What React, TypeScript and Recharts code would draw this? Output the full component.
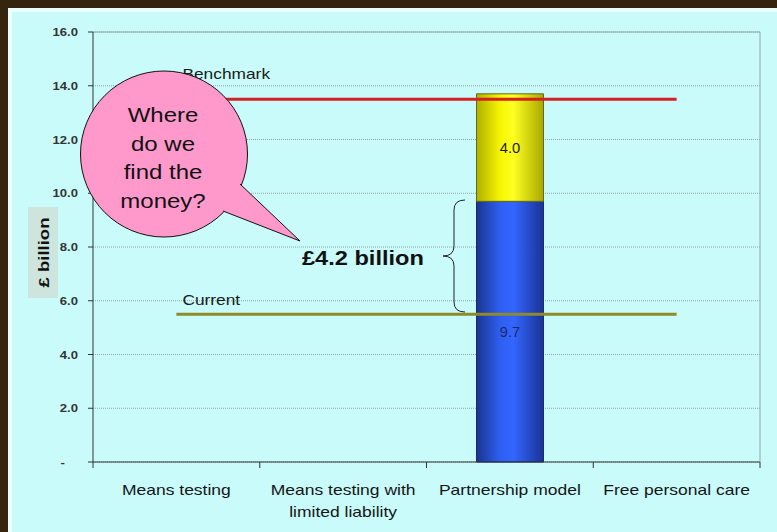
import React from "react";
import { ComposedChart, Bar, Line, XAxis, YAxis, CartesianGrid, ReferenceLine, LabelList } from "recharts";

const categories = ["Means testing", "Means testing with limited liability", "Partnership model", "Free personal care"];
const baseCost = [null, null, 9.7, null];
const extraCost = [null, null, 4.0, null];
const benchmark = [13.5, 13.5, 13.5, 13.5];
const current = [5.5, 5.5, 5.5, 5.5];
const yTicks = [0, 2, 4, 6, 8, 10, 12, 14, 16];
const bubbleLines = ["Where", "do we", "find the", "money?"];
const gapLabel = "£4.2 billion";
const yAxisLabel = "£ billion";
const benchmarkLabel = "Benchmark";
const currentLabel = "Current";

const data = categories.map((c, i) => ({
  category: c,
  base: baseCost[i],
  extra: extraCost[i],
  benchmark: benchmark[i],
  current: current[i],
}));

const FONT = "'Liberation Sans', Arial, sans-serif";
const W = 777;
const H = 532;
const M = { top: 32, right: 0, bottom: 0, left: 0 };
const LEFT_W = 93;
const RIGHT_W = 17;
const X_H = 70;
const BAND = (W - LEFT_W - RIGHT_W) / categories.length;

function WText(props: any) {
  const { x, y, children, anchor = "start", size = 14, weight = "normal", fill = "#1a1a1a", sx = 1.25 } = props;
  return (
    <text
      transform={`translate(${x},${y}) scale(${sx},1)`}
      textAnchor={anchor}
      fontSize={size}
      fontWeight={weight}
      fill={fill}
      fontFamily={FONT}
    >
      {children}
    </text>
  );
}

function wrap(s: string, max: number) {
  const words = s.split(" ");
  const lines: string[] = [];
  let cur = "";
  for (const w of words) {
    const t = cur ? cur + " " + w : w;
    if (t.length > max && cur) {
      lines.push(cur);
      cur = w;
    } else cur = t;
  }
  if (cur) lines.push(cur);
  return lines;
}

const CatTick = (props: any) => {
  const { x, y, payload, index } = props;
  const lines = wrap(String(payload.value), 19);
  const half = BAND / 2;
  return (
    <g>
      <line x1={x - half} x2={x - half} y1={y} y2={y + 6} stroke="#333" />
      {index === categories.length - 1 && <line x1={x + half} x2={x + half} y1={y} y2={y + 6} stroke="#333" />}
      {lines.map((l, i) => (
        <WText key={i} x={x} y={y + 33 + i * 22} anchor="middle" size={14} fill="#151515">
          {l}
        </WText>
      ))}
    </g>
  );
};

const YTick = (props: any) => {
  const { x, y, payload } = props;
  const v = Number(payload.value);
  if (v === 0) {
    return (
      <WText x={x - 13} y={y + 4} anchor="end" size={10.5} weight="bold" fill="#333" sx={1.25}>
        -
      </WText>
    );
  }
  return (
    <WText x={x} y={y + 4} anchor="end" size={10.5} weight="bold" fill="#333" sx={1.25}>
      {v.toFixed(1)}
    </WText>
  );
};

const barLabel = (color: string) => (p: any) => {
  const { x, y, width, height, value } = p;
  if (value == null || !height) return null;
  return (
    <WText x={x + width / 2} y={y + height / 2 + 5} anchor="middle" size={14} sx={1.05} fill={color}>
      {Number(value).toFixed(1)}
    </WText>
  );
};

const lineLabel = (text: string, dy: number) => (p: any) => {
  const { x, y, index } = p;
  if (index !== 0) return null;
  return (
    <WText x={x + 6} y={y + dy} size={14} fill="#1a1a1a" sx={1.24}>
      {text}
    </WText>
  );
};

export default function App() {
  return (
    <div style={{ position: "fixed", left: 0, top: 0, width: W, height: H, background: "#35250f", overflow: "hidden" }}>
      <div
        style={{
          position: "absolute",
          left: 8,
          top: 8,
          right: 0,
          bottom: 0,
          background: "#c9fbfb",
          borderLeft: "4px solid #eafefe",
          borderTop: "4px solid #eafefe",
        }}
      />
      <svg width={0} height={0} style={{ position: "absolute" }}>
        <defs>
          <linearGradient id="gBlue" x1="0" y1="0" x2="1" y2="0">
            <stop offset="0%" stopColor="#1a3590" />
            <stop offset="35%" stopColor="#2f5ef0" />
            <stop offset="55%" stopColor="#3366ff" />
            <stop offset="100%" stopColor="#1a3395" />
          </linearGradient>
          <linearGradient id="gYellow" x1="0" y1="0" x2="1" y2="0">
            <stop offset="0%" stopColor="#b0b000" />
            <stop offset="35%" stopColor="#f5f500" />
            <stop offset="55%" stopColor="#ffff22" />
            <stop offset="100%" stopColor="#a8a800" />
          </linearGradient>
        </defs>
      </svg>
      <div style={{ position: "absolute", left: 0, top: 0 }}>
        <ComposedChart width={W} height={H} data={data} margin={M} barCategoryGap={0}>
          <CartesianGrid vertical={false} stroke="#9aa4a4" strokeDasharray="1 1" />
          <XAxis
            dataKey="category"
            height={X_H}
            axisLine={{ stroke: "#333" }}
            tickLine={false}
            tickSize={0}
            tickMargin={0}
            tick={<CatTick />}
            interval={0}
          />
          <YAxis
            domain={[0, 16]}
            ticks={yTicks}
            width={LEFT_W}
            axisLine={{ stroke: "#333" }}
            tickLine={{ stroke: "#333" }}
            tickSize={5}
            tickMargin={10}
            tick={<YTick />}
            interval={0}
          />
          <YAxis
            yAxisId="right"
            orientation="right"
            domain={[0, 16]}
            width={RIGHT_W}
            tick={false}
            tickLine={false}
            axisLine={{ stroke: "#8fa8a8" }}
          />
          <ReferenceLine y={16} stroke="#8fa8a8" />
          <Bar dataKey="base" stackId="a" fill="url(#gBlue)" stroke="#1b2c6a" strokeWidth={1} barSize={67} isAnimationActive={false}>
            <LabelList dataKey="base" content={barLabel("#1a2a6a")} />
          </Bar>
          <Bar dataKey="extra" stackId="a" fill="url(#gYellow)" stroke="#666622" strokeWidth={1} barSize={67} isAnimationActive={false}>
            <LabelList dataKey="extra" content={barLabel("#1a1a1a")} />
          </Bar>
          <Line dataKey="current" stroke="#8f8a2a" strokeWidth={3} dot={false} activeDot={false} isAnimationActive={false}>
            <LabelList dataKey="current" content={lineLabel(currentLabel, -9)} />
          </Line>
          <Line dataKey="benchmark" stroke="#d42222" strokeWidth={3} dot={false} activeDot={false} isAnimationActive={false}>
            <LabelList dataKey="benchmark" content={lineLabel(benchmarkLabel, -20)} />
          </Line>
        </ComposedChart>
      </div>
      <svg width={W} height={H} style={{ position: "absolute", left: 0, top: 0, pointerEvents: "none" }}>
        <rect x={28} y={207} width={30} height={91} fill="#cde5dc" />
        <g transform="translate(49,252.5) rotate(-90)">
          <text textAnchor="middle" fontSize={15.5} fontWeight="bold" fill="#111" fontFamily={FONT} textLength={70} lengthAdjust="spacingAndGlyphs">
            {yAxisLabel}
          </text>
        </g>
        <ellipse cx={164} cy={154} rx={83.5} ry={83} fill="#ff99cc" stroke="#111" strokeWidth={1} />
        <polygon points="240,184 300,241 223,211 210,190" fill="#ff99cc" />
        <polyline points="240,184 300,241 223,211" fill="none" stroke="#111" strokeWidth={1} strokeLinejoin="miter" />
        {bubbleLines.map((l, i) => (
          <WText key={i} x={163} y={122 + i * 28.7} anchor="middle" size={20} fill="#111" sx={1.2}>
            {l}
          </WText>
        ))}
        <path
          d="M465,200 Q454,200 454,210 L454,246 Q454,256 443,256 Q454,256 454,266 L454,302 Q454,312 465,312"
          fill="none"
          stroke="#222"
          strokeWidth={1}
        />
        <WText x={302} y={265} size={20} weight="bold" fill="#111" sx={1.18}>
          {gapLabel}
        </WText>
      </svg>
    </div>
  );
}
